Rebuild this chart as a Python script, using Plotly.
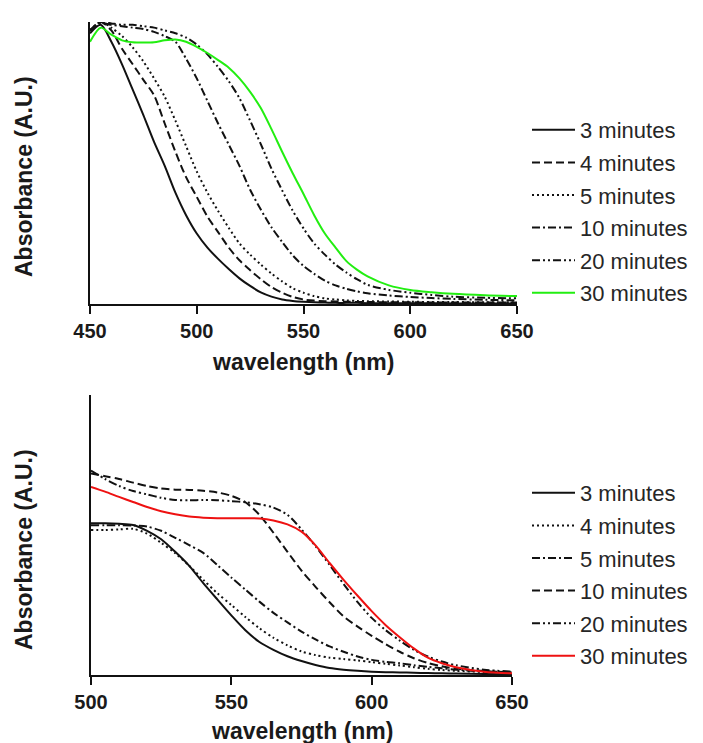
import plotly.graph_objects as go

# ---------------- top panel data ----------------
wl_top = [450, 455, 460, 465, 470, 475, 480, 485, 490, 495, 500, 505, 510, 515, 520, 525,
          530, 535, 540, 545, 550, 555, 560, 565, 570, 575, 580, 590, 600, 610, 620, 635, 650]
top_3 = [0.96, 0.99, 0.93, 0.85, 0.76, 0.67, 0.575, 0.49, 0.395, 0.315, 0.25, 0.2, 0.16, 0.124, 0.091, 0.064,
         0.041, 0.026, 0.016, 0.011, 0.008, 0.006, 0.005, 0.004, 0.004, 0.004, 0.003, 0.003, 0.003, 0.003, 0.002, 0.002, 0.002]
top_4 = [0.97, 1.0, 0.97, 0.905, 0.85, 0.795, 0.74, 0.64, 0.54, 0.45, 0.38, 0.31, 0.255, 0.2, 0.155, 0.12,
         0.088, 0.06, 0.04, 0.025, 0.016, 0.012, 0.01, 0.009, 0.008, 0.007, 0.007, 0.006, 0.006, 0.005, 0.005, 0.005, 0.005]
top_5 = [0.97, 1.0, 0.98, 0.95, 0.91, 0.86, 0.8, 0.735, 0.65, 0.56, 0.47, 0.395, 0.33, 0.27, 0.215, 0.175,
         0.14, 0.108, 0.08, 0.056, 0.04, 0.028, 0.02, 0.016, 0.013, 0.011, 0.01, 0.009, 0.008, 0.007, 0.007, 0.006, 0.006]
top_10 = [0.97, 0.995, 0.99, 0.985, 0.98, 0.975, 0.965, 0.95, 0.93, 0.87, 0.8, 0.72, 0.64, 0.565, 0.49, 0.405,
          0.335, 0.272, 0.22, 0.172, 0.135, 0.107, 0.083, 0.066, 0.054, 0.045, 0.038, 0.03, 0.025, 0.021, 0.018, 0.015, 0.013]
top_20 = [0.97, 1.0, 0.995, 0.99, 0.99, 0.985, 0.98, 0.97, 0.96, 0.945, 0.92, 0.885, 0.84, 0.79, 0.73, 0.65,
          0.567, 0.48, 0.403, 0.33, 0.268, 0.215, 0.175, 0.14, 0.112, 0.088, 0.068, 0.05, 0.04, 0.032, 0.026, 0.022, 0.02]
top_30 = [0.93, 0.98, 0.955, 0.935, 0.928, 0.927, 0.928, 0.935, 0.938, 0.93, 0.912, 0.89, 0.865, 0.838, 0.8, 0.752,
          0.695, 0.62, 0.54, 0.463, 0.39, 0.315, 0.25, 0.2, 0.153, 0.122, 0.098, 0.066, 0.05, 0.042, 0.036, 0.031, 0.028]

# ---------------- bottom panel data ----------------
wl_bot = [500, 505, 510, 515, 520, 525, 530, 535, 540, 545, 550, 555, 560, 565, 570, 575, 580,
          585, 590, 595, 600, 605, 610, 615, 620, 625, 630, 640, 650]
bot_3 = [0.542, 0.542, 0.54, 0.536, 0.515, 0.485, 0.44, 0.39, 0.328, 0.27, 0.213, 0.16, 0.118, 0.09, 0.067, 0.05, 0.036,
         0.025, 0.019, 0.015, 0.012, 0.01, 0.009, 0.008, 0.007, 0.006, 0.005, 0.004, 0.003]
bot_4 = [0.518, 0.518, 0.52, 0.522, 0.505, 0.472, 0.435, 0.39, 0.34, 0.292, 0.25, 0.207, 0.167, 0.133, 0.106, 0.084, 0.071,
         0.062, 0.057, 0.052, 0.046, 0.04, 0.034, 0.028, 0.022, 0.018, 0.015, 0.011, 0.008]
bot_5 = [0.535, 0.535, 0.535, 0.534, 0.53, 0.515, 0.49, 0.464, 0.436, 0.393, 0.348, 0.305, 0.262, 0.222, 0.188, 0.155, 0.127,
         0.102, 0.083, 0.066, 0.054, 0.047, 0.042, 0.035, 0.029, 0.024, 0.019, 0.013, 0.01]
bot_10 = [0.72, 0.71, 0.7, 0.687, 0.675, 0.666, 0.662, 0.661, 0.658, 0.652, 0.64, 0.617, 0.572, 0.508, 0.44, 0.373, 0.315,
          0.26, 0.209, 0.173, 0.14, 0.11, 0.083, 0.06, 0.043, 0.031, 0.023, 0.014, 0.009]
bot_20 = [0.73, 0.7, 0.675, 0.657, 0.645, 0.633, 0.625, 0.624, 0.625, 0.624, 0.621, 0.617, 0.61, 0.598, 0.572, 0.52, 0.46,
          0.393, 0.325, 0.26, 0.204, 0.16, 0.123, 0.09, 0.066, 0.048, 0.035, 0.019, 0.012]
bot_30 = [0.672, 0.655, 0.636, 0.618, 0.6, 0.585, 0.574, 0.566, 0.562, 0.56, 0.56, 0.56, 0.559, 0.552, 0.538, 0.512, 0.463,
          0.4, 0.34, 0.283, 0.228, 0.178, 0.135, 0.095, 0.062, 0.042, 0.028, 0.012, 0.006]

x_ticks_top = [450, 500, 550, 600, 650]
x_ticks_bot = [500, 550, 600, 650]
names = ["3 minutes", "4 minutes", "5 minutes", "10 minutes", "20 minutes", "30 minutes"]
x_title = "wavelength (nm)"
y_title = "Absorbance (A.U.)"

DASH = "8px,4px"
DOT = "2px,3px"
DASHDOT = "8px,3px,2px,3px"
DASHDOTDOT = "8px,3px,2px,3px,2px,3px"

top_series = [top_3, top_4, top_5, top_10, top_20, top_30]
top_styles = [("#111111", "solid"), ("#111111", DASH), ("#111111", DOT),
              ("#111111", DASHDOT), ("#111111", DASHDOTDOT), ("#22ee11", "solid")]
bot_series = [bot_3, bot_4, bot_5, bot_10, bot_20, bot_30]
bot_styles = [("#111111", "solid"), ("#111111", DOT), ("#111111", DASHDOT),
              ("#111111", DASH), ("#111111", DASHDOTDOT), ("#ee1111", "solid")]

fig = go.Figure()
for i, (ys, (c, d)) in enumerate(zip(top_series, top_styles)):
    fig.add_trace(go.Scatter(x=wl_top, y=ys, mode="lines", name=names[i],
                             line=dict(color=c, dash=d, width=2, shape="spline", smoothing=0.8),
                             xaxis="x", yaxis="y", legend="legend", legendgroup="t%d" % i))
for i, (ys, (c, d)) in enumerate(zip(bot_series, bot_styles)):
    fig.add_trace(go.Scatter(x=wl_bot, y=ys, mode="lines", name=names[i],
                             line=dict(color=c, dash=d, width=2, shape="spline", smoothing=0.8),
                             xaxis="x2", yaxis="y2", legend="legend2", legendgroup="b%d" % i))

W, H = 703, 743
FONT = "Liberation Sans, Arial, sans-serif"
axis_common = dict(showline=True, linecolor="#111111", linewidth=2, showgrid=False, zeroline=False,
                   mirror=False, automargin=False)
xcommon = dict(axis_common, ticks="outside", ticklen=8, tickwidth=2, tickcolor="#111111",
               ticklabelstandoff=0,
               tickfont=dict(family=FONT, size=20, color="#1a1a1a", weight="bold"))
ycommon = dict(axis_common, ticks="", showticklabels=False, range=[0, 1])

legend_common = dict(font=dict(family=FONT, size=22, color="#262626"), bgcolor="rgba(0,0,0,0)",
                     tracegroupgap=1, xanchor="left", yanchor="top", itemwidth=43)

title_font = dict(family=FONT, size=23, color="#1a1a1a", weight="bold")
annotations = [
    dict(text=y_title, x=24 / W, y=1 - 177 / H, textangle=-90),
    dict(text=y_title, x=24 / W, y=1 - 550 / H, textangle=-90),
    dict(text=x_title, x=303 / W, y=1 - 362 / H),
    dict(text=x_title, x=302 / W, y=1 - 731 / H),
]
annotations = [dict(a, xref="paper", yref="paper", showarrow=False, font=title_font,
                    xanchor="center", yanchor="middle") for a in annotations]

fig.update_layout(
    width=W, height=H, margin=dict(l=0, r=0, t=0, b=0, autoexpand=False),
    paper_bgcolor="white", plot_bgcolor="white",
    xaxis=dict(xcommon, domain=[90 / W, 517 / W], range=[450, 650], tickvals=x_ticks_top, anchor="y"),
    yaxis=dict(ycommon, domain=[1 - 304 / H, 1 - 22 / H], anchor="x"),
    xaxis2=dict(xcommon, domain=[91 / W, 512 / W], range=[500, 650], tickvals=x_ticks_bot, anchor="y2"),
    yaxis2=dict(ycommon, domain=[1 - 675 / H, 1 - 395 / H], anchor="x2"),
    legend=dict(legend_common, x=527 / W, y=1 - 109 / H),
    legend2=dict(legend_common, x=527 / W, y=1 - 472 / H),
    annotations=annotations,
    showlegend=True,
)

fig.write_html("out.html", config={"displayModeBar": False},
               post_script="document.body.style.margin='0px';")
